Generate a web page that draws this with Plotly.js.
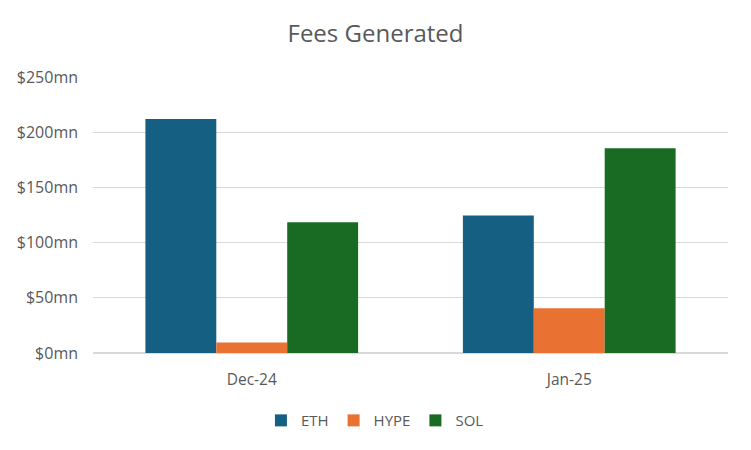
<!DOCTYPE html>
<html>
<head>
<meta charset="utf-8">
<script src="https://cdn.plot.ly/plotly-3.0.1.min.js"></script>
<style>
  html, body { margin: 0; padding: 0; background: #fff; }
  #chart { width: 751px; height: 450px; }
</style>
</head>
<body>
<div id="chart"></div>
<script>
// Данные
const months = ["Dec-24", "Jan-25"];
const ethFees = [212, 124.5];
const hypeFees = [9.5, 40.5];
const solFees = [118.5, 185.5];
const yTicks = [0, 50, 100, 150, 200, 250];
const yTickLabels = yTicks.map((v) => "$" + v + "mn");

const FONT = "Open Sans, Liberation Sans, sans-serif";
const TEXT_COLOR = "#595959";

const traces = [
  { name: "ETH", x: months, y: ethFees, marker: { color: "#156082" } },
  { name: "HYPE", x: months, y: hypeFees, marker: { color: "#E97132" } },
  { name: "SOL", x: months, y: solFees, marker: { color: "#196B24" } },
].map((t) => Object.assign({ type: "bar", hoverinfo: "none" }, t));

const layout = {
  width: 751,
  height: 450,
  margin: { l: 93, r: 23, t: 77, b: 97 },
  paper_bgcolor: "#ffffff",
  plot_bgcolor: "#ffffff",
  font: { family: FONT, color: TEXT_COLOR, size: 15 },
  title: {
    text: "Fees Generated",
    font: { family: FONT, size: 24, color: TEXT_COLOR },
    x: 0.5,
    xanchor: "center",
    y: 0.925,
    yanchor: "middle",
  },
  barmode: "group",
  bargap: 0.33,
  bargroupgap: 0,
  showlegend: true,
  legend: {
    orientation: "h",
    x: 0.444,
    xanchor: "center",
    y: -0.245,
    yanchor: "middle",
    font: { family: FONT, size: 15, color: TEXT_COLOR },
    itemwidth: 30,
  },
  xaxis: {
    type: "category",
    showgrid: false,
    zeroline: false,
    showline: false,
    ticks: "",
    ticklabelstandoff: 15,
    tickfont: { family: FONT, size: 15.5, color: TEXT_COLOR },
  },
  yaxis: {
    range: [0, 250],
    tickmode: "array",
    tickvals: yTicks,
    ticktext: yTickLabels,
    showgrid: true,
    gridcolor: "#D9D9D9",
    gridwidth: 1.3,
    zeroline: true,
    zerolinecolor: "#D9D9D9",
    zerolinewidth: 1.3,
    showline: false,
    ticks: "",
    ticklabelstandoff: 14,
    tickfont: { family: FONT, size: 16, color: TEXT_COLOR },
  },
};

Plotly.newPlot("chart", traces, layout, { staticPlot: true, displayModeBar: false });
</script>
</body>
</html>
